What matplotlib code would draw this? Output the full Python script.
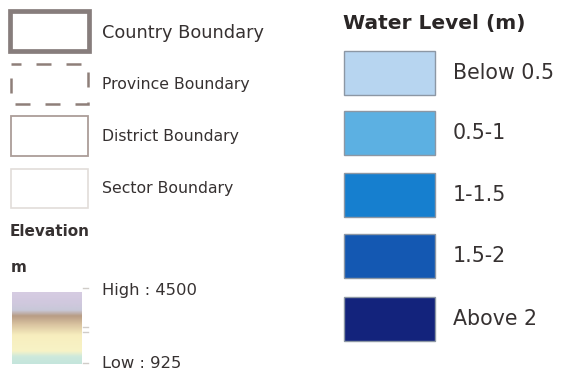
import matplotlib.pyplot as plt
import matplotlib.patches as mpatches
from matplotlib.colors import LinearSegmentedColormap
import numpy as np

plt.rcParams['font.family'] = ['DejaVu Sans']

# boundary legend entries
boundary_labels = ['Country Boundary', 'Province Boundary', 'District Boundary', 'Sector Boundary']
boundary_sizes = [12.8, 11.3, 11.3, 11.3]

# water level classes
water_labels = ['Below 0.5', '0.5-1', '1-1.5', '1.5-2', 'Above 2']
water_colors = ['#b7d5f0', '#5cb0e2', '#167fcf', '#1458b2', '#13237c']

# elevation ramp, top (high) to bottom (low): (position, colour)
elev_stops = [0.0, 0.15, 0.25, 0.33, 0.45, 0.60, 0.82, 0.90, 1.0]
elev_colors = ['#d6cce2', '#d0c8de', '#c8c8d8', '#b89c84', '#d9c3a0', '#f7eebe', '#f8f3c6', '#cde9dc', '#c4e5dc']
elev_high = 'High : 4500'
elev_low = 'Low : 925'

fig = plt.figure(figsize=(5.62, 3.76), dpi=100)
ax = fig.add_axes([0, 0, 1, 1])
ax.set_xlim(0, 562)
ax.set_ylim(376, 0)
ax.axis('off')

txt = '#363131'

# boundary symbols
ax.add_patch(mpatches.Rectangle((10, 11), 79, 40, fill=False, ec='#877d7c', lw=3.4))
ax.add_patch(mpatches.Rectangle((11, 64), 77, 40, fill=False, ec='#8e7f79', lw=1.8, ls=(2, (6, 6))))
ax.add_patch(mpatches.Rectangle((11, 116), 77, 40, fill=False, ec='#ab9d98', lw=1.3))
ax.add_patch(mpatches.Rectangle((11, 169), 77, 39, fill=False, ec='#e2ddd9', lw=1.2))
for lab, y, fs in zip(boundary_labels, [33, 85, 137, 188], boundary_sizes):
    ax.text(102, y, lab, fontsize=fs, color=txt, va='center', ha='left')

# elevation
ax.text(10, 232, 'Elevation', fontsize=11, fontweight='bold', color=txt, va='center')
ax.text(11, 267, 'm', fontsize=11, fontweight='bold', color=txt, va='center')
cmap = LinearSegmentedColormap.from_list('elev', list(zip(elev_stops, elev_colors)))
grad = np.linspace(0, 1, 200).reshape(-1, 1)
ax.imshow(grad, cmap=cmap, extent=(12, 82, 364, 292), aspect='auto', interpolation='bilinear')
for ty in [288, 327, 332, 363]:
    ax.plot([83, 88], [ty, ty], color='#d0ccc8', lw=1)
ax.text(102, 290, elev_high, fontsize=11.8, color=txt, va='center')
ax.text(102, 364, elev_low, fontsize=11.8, color=txt, va='center')

# water level legend
ax.text(343, 24, 'Water Level (m)', fontsize=14.5, fontweight='bold', color='#2a2626', va='center')
row_top = [51, 111, 173, 234, 297]
for lab, col, y0 in zip(water_labels, water_colors, row_top):
    ax.add_patch(mpatches.Rectangle((344, y0), 91, 44, fc=col, ec='#8c97a4', lw=1))
    ax.text(453, y0 + 22, lab, fontsize=14.8, color=txt, va='center')

fig.savefig('out.png', dpi=100)
